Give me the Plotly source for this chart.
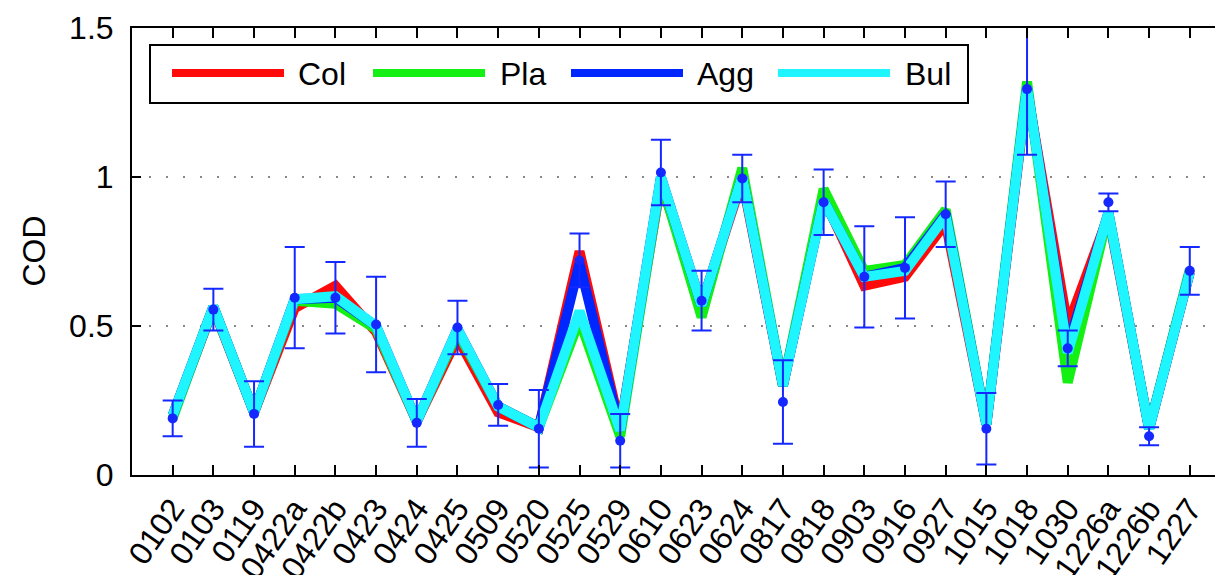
import plotly.graph_objects as go

# Case dates (x categories)
cases = ["0102", "0103", "0119", "0422a", "0422b", "0423", "0424", "0425", "0509",
         "0520", "0525", "0529", "0610", "0623", "0624", "0817", "0818", "0903",
         "0916", "0927", "1015", "1018", "1030", "1226a", "1226b", "1227"]

# Retrieved COD for each ice habit model
cod_col = [0.20, 0.56, 0.21, 0.56, 0.635, 0.48, 0.18, 0.46, 0.21, 0.16, 0.75, 0.16, 0.98,
           0.57, 0.99, 0.30, 0.93, 0.635, 0.665, 0.845, 0.17, 1.29, 0.50, 0.87, 0.155, 0.68]
cod_pla = [0.19, 0.565, 0.21, 0.585, 0.575, 0.49, 0.18, 0.48, 0.23, 0.16, 0.52, 0.13, 0.99,
           0.53, 1.03, 0.30, 0.96, 0.685, 0.705, 0.89, 0.17, 1.32, 0.31, 0.88, 0.155, 0.69]
cod_agg = [0.20, 0.565, 0.21, 0.59, 0.595, 0.50, 0.18, 0.49, 0.23, 0.16, 0.71, 0.15, 1.00,
           0.57, 1.00, 0.30, 0.92, 0.665, 0.695, 0.875, 0.17, 1.30, 0.43, 0.88, 0.155, 0.68]
cod_bul = [0.20, 0.565, 0.21, 0.59, 0.60, 0.50, 0.18, 0.49, 0.23, 0.16, 0.55, 0.15, 1.00,
           0.57, 1.00, 0.30, 0.92, 0.665, 0.685, 0.87, 0.17, 1.30, 0.41, 0.88, 0.155, 0.68]

# Reference COD with its uncertainty
cod_ref = [0.19, 0.555, 0.205, 0.595, 0.595, 0.505, 0.175, 0.495, 0.235, 0.155, 0.72, 0.115,
           1.015, 0.585, 0.995, 0.245, 0.915, 0.665, 0.695, 0.875, 0.155, 1.295, 0.425,
           0.915, 0.13, 0.685]
cod_ref_err = [0.06, 0.07, 0.11, 0.17, 0.12, 0.16, 0.08, 0.09, 0.07, 0.13, 0.09, 0.09, 0.11,
               0.10, 0.08, 0.14, 0.11, 0.17, 0.17, 0.11, 0.12, 0.22, 0.06, 0.03, 0.03, 0.08]

series = [("Col", cod_col, "#ff0a0a"), ("Pla", cod_pla, "#14f014"),
          ("Agg", cod_agg, "#0026ff"), ("Bul", cod_bul, "#1ef5ff")]

FONT = "Liberation Sans, Arial, Helvetica, sans-serif"
LINE_W = 10

# Page geometry (pixels)
W, H = 1215, 575
ML, MR, MT, MB = 132, 0, 28, 100
PW, PH = W - ML - MR, H - MT - MB


def px_x(p):
    return (p - ML) / PW


def px_y(p):
    return (H - MB - p) / PH


xs = list(range(len(cases)))
fig = go.Figure()

for name, vals, color in series:
    fig.add_trace(go.Scatter(x=xs, y=vals, mode="lines", name=name,
                             line=dict(color=color, width=LINE_W),
                             showlegend=False))

fig.add_trace(go.Scatter(
    x=xs, y=cod_ref, mode="markers", name="ref",
    marker=dict(color="#1428ff", size=10),
    error_y=dict(type="data", array=cod_ref_err, color="#1428ff",
                 thickness=2, width=10),
    showlegend=False))

# Legend box drawn in page coordinates
shapes = [dict(type="rect", xref="paper", yref="paper",
               x0=px_x(150), x1=px_x(968), y0=px_y(103), y1=px_y(45),
               line=dict(color="black", width=2), fillcolor="white", layer="above")]
annotations = []
legend_pos = [(172, 296), (373, 498), (571, 695), (778, 903)]
for (name, _, color), (lx, tx) in zip(series, legend_pos):
    shapes.append(dict(type="line", xref="paper", yref="paper",
                       x0=px_x(lx), x1=px_x(lx + 112), y0=px_y(73), y1=px_y(73),
                       line=dict(color=color, width=8), layer="above"))
    annotations.append(dict(text=name, xref="paper", yref="paper",
                            x=px_x(tx), y=px_y(74), xanchor="left", yanchor="middle",
                            showarrow=False, font=dict(family=FONT, size=32, color="black")))

annotations.append(dict(text="COD", xref="paper", yref="paper",
                        x=px_x(33), y=0.5, textangle=-90,
                        xanchor="center", yanchor="middle", showarrow=False,
                        font=dict(family=FONT, size=32, color="black")))

fig.update_layout(
    width=W, height=H,
    margin=dict(l=ML, r=MR, t=MT, b=MB, pad=0),
    paper_bgcolor="white", plot_bgcolor="white",
    font=dict(family=FONT, size=32, color="black"),
    shapes=shapes, annotations=annotations,
    showlegend=False,
)

fig.update_xaxes(
    range=[-1, 25.62], tickmode="array", tickvals=xs, ticktext=cases,
    tickangle=-55, ticks="inside", ticklen=10, tickwidth=1.5, tickcolor="black",
    showline=True, linecolor="black", linewidth=2, mirror="ticks",
    showgrid=False, zeroline=False, automargin=False,
    tickfont=dict(family=FONT, size=32, color="black"),
)
fig.update_yaxes(
    range=[0, 1.5], tickmode="array", tickvals=[0, 0.5, 1, 1.5],
    ticktext=["0", "0.5", "1", "1.5"],
    ticks="inside", ticklen=9, tickwidth=1.5, tickcolor="black",
    showline=True, linecolor="black", linewidth=2, mirror=False,
    showgrid=True, gridcolor="#888888", gridwidth=1.5, griddash="2px,15px",
    zeroline=False, automargin=False, ticklabelstandoff=10,
    tickfont=dict(family=FONT, size=32, color="black"),
)

fig.write_html("out.html")
